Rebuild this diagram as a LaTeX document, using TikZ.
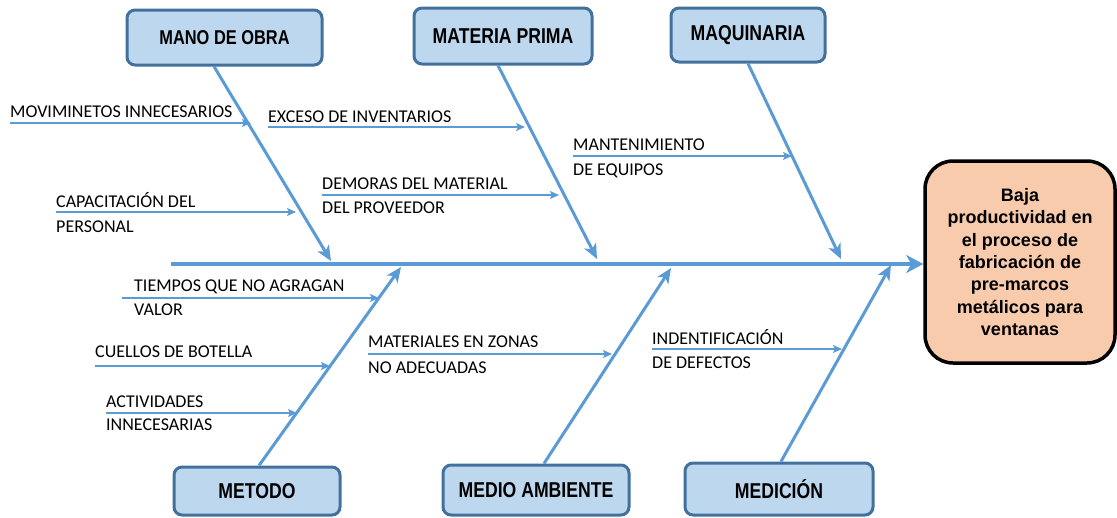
\documentclass[tikz,border=0pt]{standalone}
\usepackage{fontspec}
\setmainfont{Carlito}
\newfontfamily\narrowfont[FakeStretch=0.82]{Liberation Sans}
\newfontfamily\arialfont{Liberation Sans}
\usetikzlibrary{arrows.meta,positioning}
\definecolor{boneblue}{HTML}{5B9BD5}
\definecolor{boxfill}{HTML}{BDD7EE}
\definecolor{boxline}{HTML}{41719C}
\definecolor{effectfill}{HTML}{F8CBAD}

\begin{document}
\begin{tikzpicture}
    [
      x=1pt, y=-1pt,
      category/.style={rectangle,rounded corners=8pt,draw=boxline,fill=boxfill,line width=3pt,inner sep=0pt,
        font=\narrowfont\bfseries\fontsize{21.5}{24}\selectfont},
      effect/.style={rectangle,rounded corners=28pt,draw=black,fill=effectfill,line width=3.5pt,align=center,
        minimum width=190pt,minimum height=202pt,font=\arialfont\bfseries\fontsize{18}{22.3}\selectfont},
      cause/.style={anchor=base west,inner sep=0pt,font=\fontsize{18}{20}\selectfont},
      spine/.style={->,>={Stealth[length=17pt,width=18pt,inset=5pt]},line width=3.5pt,draw=boneblue},
      bone/.style={->,>={Stealth[length=15pt,width=13pt,inset=4pt]},line width=3pt,draw=boneblue},
      sub/.style={->,>={Stealth[length=9pt,width=8pt,inset=2pt]},line width=1.3pt,draw=boneblue},
    ]
    \useasboundingbox (0,0) rectangle (1117,517);

    % effect and spine
    \node (effect) [effect] at (1020,262) {Baja\\productividad en\\el proceso de\\fabricación de\\pre-marcos\\metálicos para\\ventanas};
    \coordinate (spine-start) at (171,264);
    \path (spine-start) edge [spine] (spine-start -| effect.west);

    % categories
    \node (mano) [category,minimum width=195pt,minimum height=55pt,font=\narrowfont\bfseries\fontsize{20}{22}\selectfont] at (224.5,37.5) {MANO DE OBRA};
    \node (materia) [category,minimum width=178pt,minimum height=56pt] at (503,36) {MATERIA PRIMA};
    \node (maquinaria) [category,minimum width=154pt,minimum height=54pt] at (748,35) {MAQUINARIA};
    \node (metodo) [category,minimum width=166pt,minimum height=48pt] at (257,491) {METODO};
    \node (medio) [category,minimum width=186pt,minimum height=50pt] at (536,490) {MEDIO AMBIENTE};
    \node (medicion) [category,minimum width=188pt,minimum height=52pt] at (779,489) {MEDICIÓN};

    \coordinate (mano-tip) at (331,261);
    \coordinate (materia-tip) at (597,259);
    \coordinate (maquinaria-tip) at (841,259);
    \coordinate (metodo-tip) at (401,267);
    \coordinate (medio-tip) at (671,268);
    \coordinate (medicion-tip) at (891,265);

    \path
    ([xshift=-10.5pt]mano.south) edge [bone] (mano-tip)
    ([xshift=-5pt]materia.south) edge [bone] (materia-tip)
    (maquinaria.south) edge [bone] (maquinaria-tip)

    ([xshift=2pt]metodo.north) edge [bone] (metodo-tip)
    ([xshift=8pt]medio.north) edge [bone] (medio-tip)
    ([xshift=2pt]medicion.north) edge [bone] (medicion-tip)
    ;

    % sub-causes
    \node (movim) [cause] at (10,117) {MOVIMINETOS INNECESARIOS};
    \coordinate (movim-tip) at (251,123);
    \node (capac) [cause] at (56,207) {CAPACITACIÓN DEL};
    \node (capac-2) [cause] at (56,232) {PERSONAL};
    \coordinate (capac-tip) at (296,212);
    \node (exceso) [cause] at (268,122) {EXCESO DE INVENTARIOS};
    \coordinate (exceso-tip) at (525,127);
    \node (demoras) [cause] at (322,189) {DEMORAS DEL MATERIAL};
    \node (demoras-2) [cause] at (322,213) {DEL PROVEEDOR};
    \coordinate (demoras-tip) at (559,195);
    \node (manten) [cause] at (573,150) {MANTENIMIENTO};
    \node (manten-2) [cause] at (573,175) {DE EQUIPOS};
    \coordinate (manten-tip) at (792,156);
    \node (tiempos) [cause] at (134,291) {TIEMPOS QUE NO AGRAGAN};
    \node (tiempos-2) [cause] at (134,315) {VALOR};
    \coordinate (tiempos-tip) at (379,298);
    \node (cuellos) [cause] at (95,357) {CUELLOS DE BOTELLA};
    \coordinate (cuellos-tip) at (330,366);
    \node (activ) [cause] at (106,407) {ACTIVIDADES};
    \node (activ-2) [cause] at (106,430) {INNECESARIAS};
    \coordinate (activ-tip) at (297,413);
    \node (zonas) [cause] at (368,347) {MATERIALES EN ZONAS};
    \node (zonas-2) [cause] at (368,373) {NO ADECUADAS};
    \coordinate (zonas-tip) at (612,354);
    \node (defectos) [cause] at (652,344) {INDENTIFICACIÓN};
    \node (defectos-2) [cause] at (652,368) {DE DEFECTOS};
    \coordinate (defectos-tip) at (842,349);

    \path
    (movim-tip -| movim.west) edge [sub] (movim-tip)
    (capac-tip -| capac.west) edge [sub] (capac-tip)
    (exceso-tip -| exceso.west) edge [sub] (exceso-tip)
    (demoras-tip -| demoras.west) edge [sub] (demoras-tip)
    (manten-tip -| manten.west) edge [sub] (manten-tip)

    ([xshift=-12pt]tiempos-tip -| tiempos.west) edge [sub] (tiempos-tip)
    (cuellos-tip -| cuellos.west) edge [sub] (cuellos-tip)
    (activ-tip -| activ.west) edge [sub] (activ-tip)
    (zonas-tip -| zonas.west) edge [sub] (zonas-tip)
    (defectos-tip -| defectos.west) edge [sub] (defectos-tip)
    ;

\end{tikzpicture}
\end{document}
